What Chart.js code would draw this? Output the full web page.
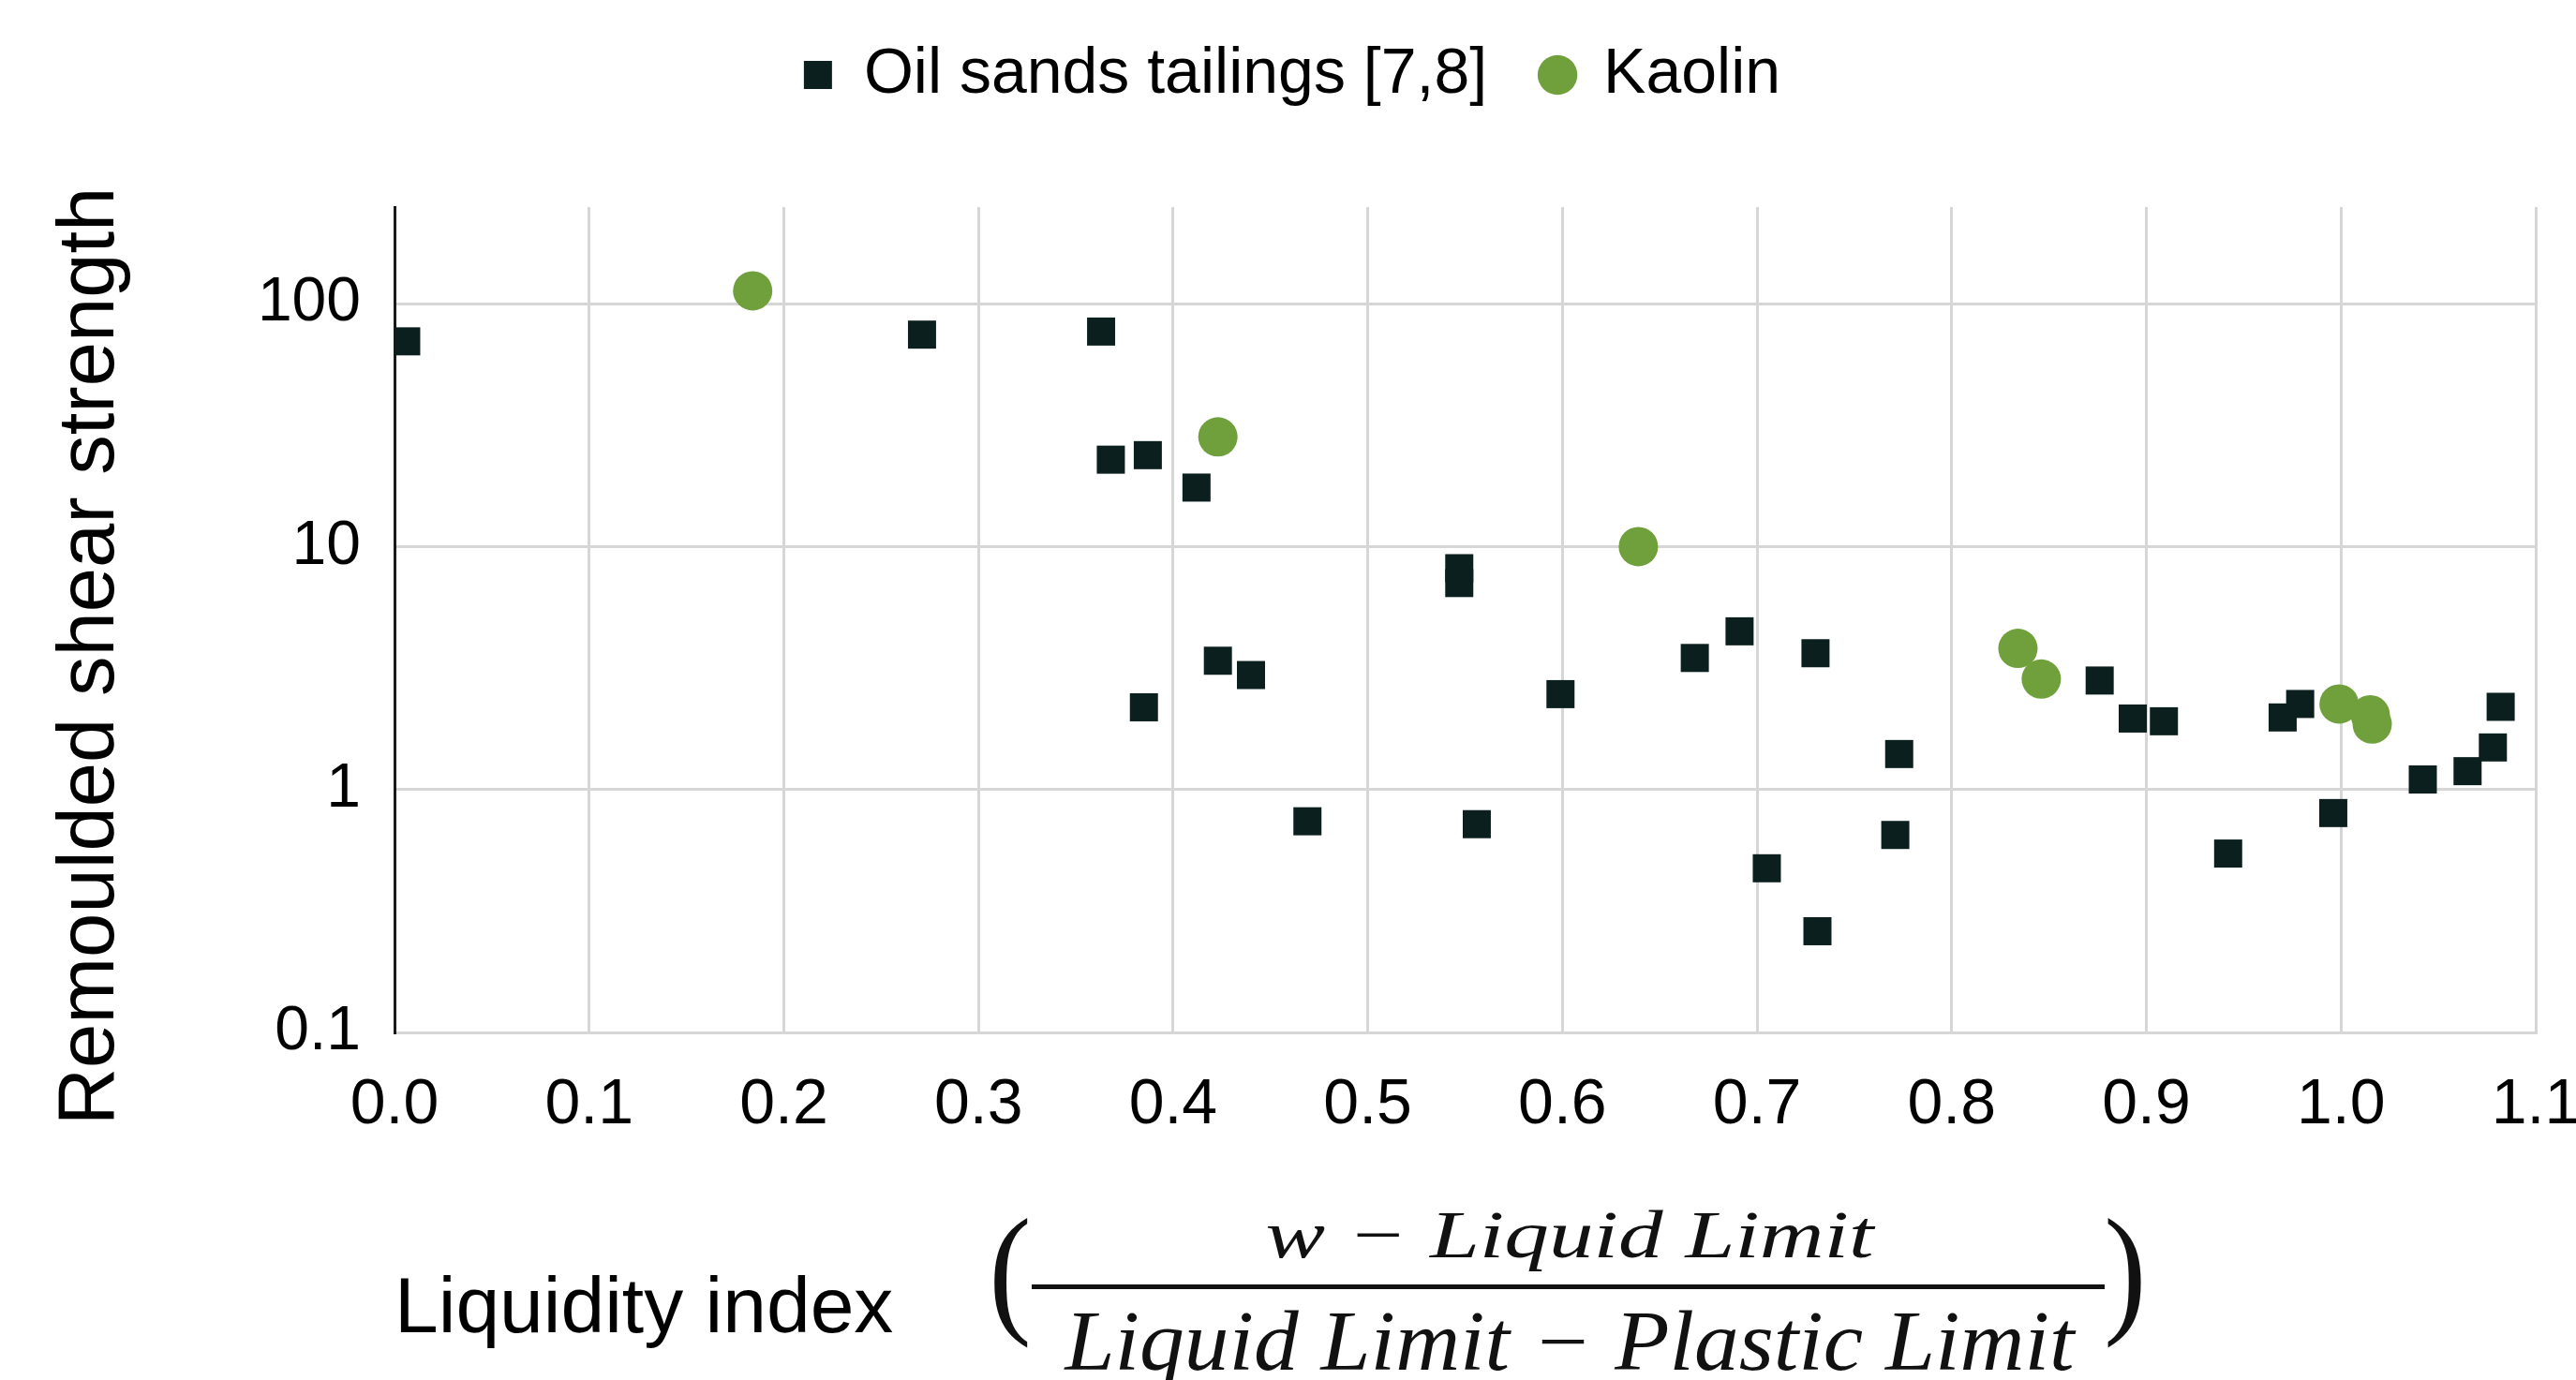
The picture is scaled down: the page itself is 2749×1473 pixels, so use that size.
<!DOCTYPE html>
<html>
<head>
<meta charset="utf-8">
<style>
  html, body { margin: 0; padding: 0; background: #ffffff; }
  #wrap { width: 2749px; height: 1473px; position: relative; }
</style>
<script src="https://cdn.jsdelivr.net/npm/chart.js@4/dist/chart.umd.min.js"></script>
</head>
<body>
<div id="wrap"><canvas id="c" width="2749" height="1473"></canvas></div>
<script>
// ---------- data ----------
const SERIES_NAMES = ['Oil sands tailings [7,8]', 'Kaolin'];

const OIL_X = [0.006, 0.271, 0.363, 0.368, 0.387, 0.412, 0.385, 0.423, 0.440, 0.469,
               0.547, 0.547, 0.556, 0.599, 0.668, 0.691, 0.705, 0.730, 0.731, 0.771,
               0.773, 0.876, 0.893, 0.909, 0.942, 0.970, 0.979, 0.996, 1.042, 1.065,
               1.078, 1.082];
const OIL_Y = [70, 74.6, 76.8, 22.8, 23.8, 17.5, 2.18, 3.39, 2.96, 0.74,
               8.15, 7.08, 0.72, 2.47, 3.48, 4.48, 0.474, 3.64, 0.261, 0.65,
               1.40, 2.81, 1.96, 1.91, 0.545, 1.98, 2.25, 0.80, 1.10, 1.19,
               1.49, 2.19];

const KAOLIN_X = [0.184, 0.423, 0.639, 0.834, 0.846, 0.999, 1.015, 1.016];
const KAOLIN_Y = [113, 28.3, 10.0, 3.81, 2.85, 2.25, 2.03, 1.86];

const X_TICKS = [0.0, 0.1, 0.2, 0.3, 0.4, 0.5, 0.6, 0.7, 0.8, 0.9, 1.0, 1.1];
const Y_TICKS = [0.1, 1, 10, 100];

const Y_TITLE = 'Remoulded shear strength';
const X_TITLE = 'Liquidity index';
const FORMULA_NUM = 'w \u2212 Liquid Limit';
const FORMULA_DEN = 'Liquid Limit \u2212 Plastic Limit';

// ---------- styles ----------
const OIL_COLOR = '#0b1f1e';
const KAOLIN_COLOR = '#70a03c';
const GRID_COLOR = '#d6d6d6';
const SANS = '"Liberation Sans", Arial, sans-serif';
const SERIF = '"Liberation Serif", "Times New Roman", serif';

Chart.defaults.font.family = SANS;
Chart.defaults.color = '#000000';

const toPoints = (xs, ys) => xs.map((x, i) => ({ x: x, y: ys[i] }));

// legend: fixed height so the plot area starts where the reference does,
// and a small horizontal nudge so it sits centred like the reference
const LEGEND_HEIGHT = 235;
const LEGEND_SHIFT_X = 26;
const Y_TITLE_SHIFT = 39;
const legendSpacer = {
  id: 'legendSpacer',
  beforeInit(chart) {
    const lg = chart.legend;
    const origFit = lg.fit;
    lg.fit = function () {
      origFit.call(this);
      this.height = LEGEND_HEIGHT;
    };
    const origDraw = lg.draw;
    lg.draw = function () {
      this.ctx.save();
      this.ctx.translate(LEGEND_SHIFT_X, 0);
      origDraw.call(this);
      this.ctx.restore();
    };
  },
  afterLayout(chart) {
    const s = chart.scales.y;
    if (s && !s._titleShifted) {
      const orig = s.drawTitle;
      s.drawTitle = function () {
        this.ctx.save();
        this.ctx.translate(0, Y_TITLE_SHIFT);
        orig.apply(this, arguments);
        this.ctx.restore();
      };
      s._titleShifted = true;
    }
  }
};

function drawFit(ctx, text, font, cx, y, w) {
  ctx.font = font;
  const m = ctx.measureText(text).width;
  ctx.save();
  ctx.translate(cx, y);
  ctx.scale(w / m, 1);
  ctx.textAlign = 'center';
  ctx.textBaseline = 'alphabetic';
  ctx.fillText(text, 0, 0);
  ctx.restore();
}

function drawParen(ctx, ch, x, y) {
  ctx.save();
  ctx.translate(x, y);
  ctx.scale(1, 1.12);
  ctx.font = '136px ' + SERIF;
  ctx.textAlign = 'center';
  ctx.textBaseline = 'middle';
  ctx.fillText(ch, 0, 0);
  ctx.restore();
}

// the fraction that follows the x-axis title
const formulaPlugin = {
  id: 'formula',
  afterDraw(chart) {
    const ctx = chart.ctx;
    const a = chart.chartArea;
    ctx.save();
    ctx.fillStyle = '#111111';
    const cx = a.left + 1254;
    drawFit(ctx, FORMULA_NUM, 'italic 71px ' + SERIF, cx, a.bottom + 240, 649);
    drawFit(ctx, FORMULA_DEN, 'italic 90px ' + SERIF, cx, a.bottom + 360, 1077);
    ctx.fillRect(a.left + 680, a.bottom + 269, 1145, 5);
    drawParen(ctx, '(', a.left + 657, a.bottom + 264);
    drawParen(ctx, ')', a.left + 1847, a.bottom + 264);
    ctx.restore();
  }
};

new Chart(document.getElementById('c'), {
  type: 'scatter',
  data: {
    datasets: [
      {
        label: SERIES_NAMES[0],
        data: toPoints(OIL_X, OIL_Y),
        pointStyle: 'rect',
        pointRadius: 21.2,
        backgroundColor: OIL_COLOR,
        borderColor: OIL_COLOR,
        borderWidth: 0
      },
      {
        label: SERIES_NAMES[1],
        data: toPoints(KAOLIN_X, KAOLIN_Y),
        pointStyle: 'circle',
        pointRadius: 21,
        backgroundColor: KAOLIN_COLOR,
        borderColor: KAOLIN_COLOR,
        borderWidth: 0
      }
    ]
  },
  options: {
    responsive: false,
    animation: false,
    events: [],
    layout: { padding: { top: -14, right: 43, bottom: 0, left: 0 } },
    plugins: {
      tooltip: { enabled: false },
      legend: {
        position: 'top',
        labels: {
          usePointStyle: true,
          boxWidth: 30,
          boxHeight: 30,
          padding: 60,
          color: '#000000',
          font: { size: 68, family: SANS }
        }
      }
    },
    scales: {
      x: {
        type: 'linear',
        min: 0,
        max: 1.1,
        afterBuildTicks(scale) {
          scale.ticks = X_TICKS.map(v => ({ value: v }));
        },
        afterFit(scale) {
          scale.height = 371;
          scale.paddingLeft = 0;
          scale.paddingRight = 0;
        },
        ticks: {
          padding: 37,
          maxRotation: 0,
          autoSkip: false,
          color: '#000000',
          font: { size: 68, family: SANS },
          callback: (v) => Number(v).toFixed(1)
        },
        grid: {
          drawTicks: false,
          lineWidth: 3,
          color: (c) => (c.tick && c.tick.value === 0) ? 'rgba(0,0,0,0)' : GRID_COLOR
        },
        border: { display: true, color: GRID_COLOR, width: 3 },
        title: {
          display: true,
          text: X_TITLE,
          align: 'start',
          color: '#000000',
          font: { size: 84, family: SANS },
          padding: { top: 0, bottom: 24 }
        }
      },
      y: {
        type: 'logarithmic',
        min: 0.1,
        max: 250,
        afterBuildTicks(scale) {
          scale.ticks = Y_TICKS.map(v => ({ value: v }));
        },
        afterFit(scale) {
          scale.width = 421;
        },
        ticks: {
          padding: 36,
          autoSkip: false,
          color: '#000000',
          font: { size: 66, family: SANS },
          callback: (v) => String(v)
        },
        grid: {
          drawTicks: false,
          lineWidth: 3,
          color: GRID_COLOR
        },
        border: { display: true, color: '#1a1a1a', width: 3 },
        title: {
          display: true,
          text: Y_TITLE,
          color: '#000000',
          font: { size: 85, family: SANS },
          padding: { top: 47, bottom: 0 }
        }
      }
    }
  },
  plugins: [legendSpacer, formulaPlugin]
});
</script>
</body>
</html>
